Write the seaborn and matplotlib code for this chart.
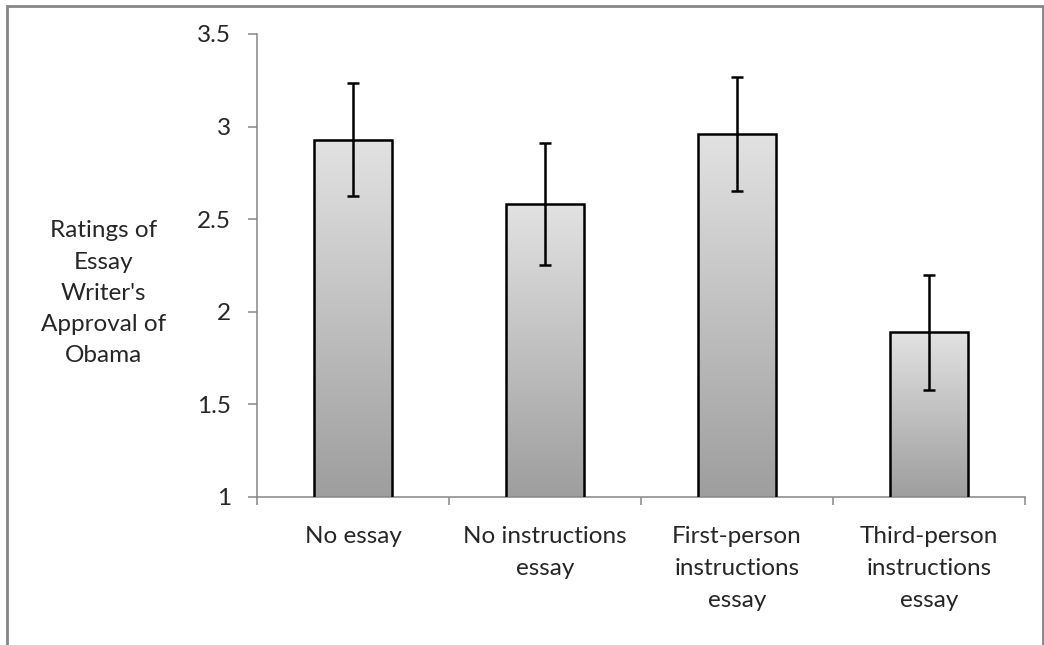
import numpy as np
import pandas as pd
import matplotlib
matplotlib.use("Agg")
import matplotlib.pyplot as plt
import seaborn as sns
from matplotlib.patches import Rectangle

# values
conditions = ["No essay", "No instructions\nessay",
              "First-person\ninstructions\nessay", "Third-person\ninstructions\nessay"]
ratings = [2.93, 2.58, 2.96, 1.89]
errors = [0.305, 0.33, 0.31, 0.31]
yticks = [1, 1.5, 2, 2.5, 3, 3.5]
ytick_labels = ["1", "1.5", "2", "2.5", "3", "3.5"]

df = pd.DataFrame({"condition": conditions, "rating": ratings, "err": errors})

sns.set_style("white")
plt.rcParams["font.family"] = ["Lato", "DejaVu Sans"]

fig = plt.figure(figsize=(10.44, 6.45), dpi=100)
ax = fig.add_axes([0.2462, 0.2295, 0.9818 - 0.2462, 0.9473 - 0.2295])

sns.barplot(data=df, x="condition", y="rating", color="#cccccc",
            edgecolor="black", linewidth=1.8, width=0.41, ax=ax)

ymin, ymax = yticks[0], yticks[-1]
ax.set_ylim(ymin, ymax)
ax.set_xlim(-0.5, len(conditions) - 0.5)

# gradient fill: light at top, darker at bottom
grad = np.linspace(0, 1, 256).reshape(-1, 1)
cmap = matplotlib.colors.LinearSegmentedColormap.from_list("g", ["#e2e2e2", "#9e9e9e"])
for p in ax.patches:
    x0, w, top = p.get_x(), p.get_width(), p.get_y() + p.get_height()
    p.set_facecolor("none")
    p.set_zorder(3)
    ax.imshow(grad, cmap=cmap, aspect="auto", origin="upper",
              extent=[x0, x0 + w, ymin, top], zorder=2)
ax.set_xlim(-0.5, len(conditions) - 0.5)
ax.set_ylim(ymin, ymax)

centers = [p.get_x() + p.get_width() / 2 for p in ax.patches]
ax.errorbar(centers, df["rating"], yerr=df["err"], fmt="none", ecolor="black",
            elinewidth=1.8, capsize=4.5, capthick=1.8, zorder=5)

ax.set_yticks(yticks)
ax.set_yticklabels(ytick_labels, fontsize=17.5)
ax.set_xticks(range(len(conditions)))
ax.set_xticklabels(conditions, fontsize=17.5, linespacing=1.65)
ax.tick_params(axis="x", length=0, pad=21)
ax.tick_params(axis="y", length=6.5, width=1.1, color="#868686", pad=12, left=True)
# category boundary ticks
ax.set_xticks(np.arange(-0.5, len(conditions), 1), minor=True)
ax.tick_params(axis="x", which="minor", length=6, width=1.1, color="#868686", bottom=True)

for s in ["top", "right"]:
    ax.spines[s].set_visible(False)
for s in ["left", "bottom"]:
    ax.spines[s].set_color("#868686")
    ax.spines[s].set_linewidth(1.1)

ax.set_xlabel("")
ax.set_ylabel("Ratings of\nEssay\nWriter's\nApproval of\nObama", rotation=0,
              fontsize=17.5, linespacing=1.6, ha="center", va="center")
ax.yaxis.set_label_coords(-0.2, 0.44)

# outer chart frame
fig.add_artist(Rectangle((7 / 1044, -0.1), (1043 - 7) / 1044, 1.1 - 6 / 645,
                         transform=fig.transFigure, fill=False,
                         edgecolor="#868686", linewidth=2))

fig.savefig("out.png", dpi=100)
